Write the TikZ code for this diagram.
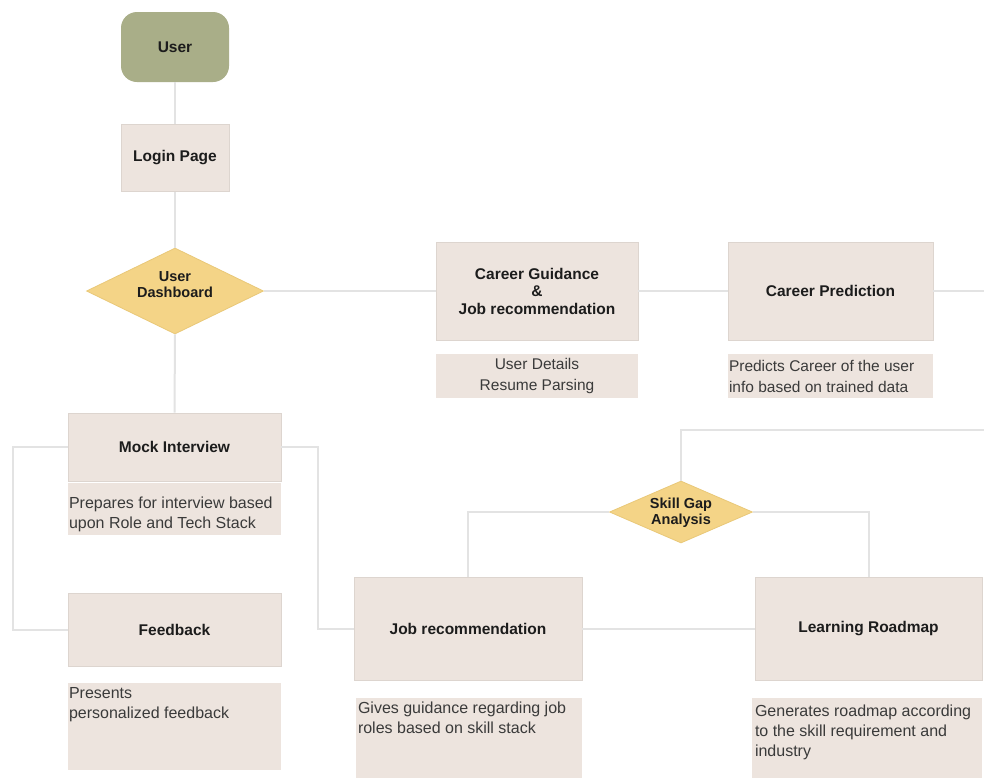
\documentclass[tikz,border=0pt]{standalone}
\usepackage{fontspec}
\setmainfont{Liberation Sans}
\usetikzlibrary{shapes.geometric}
\definecolor{userg}{HTML}{A9AE88}
\definecolor{boxf}{HTML}{EDE4DE}
\definecolor{boxd}{HTML}{DDD5CF}
\definecolor{diaf}{HTML}{F4D487}
\definecolor{diad}{HTML}{E9C878}
\definecolor{linec}{HTML}{E3E3E3}
\definecolor{titlec}{HTML}{1C1C1C}
\definecolor{bodyc}{HTML}{3A3A3A}
\tikzset{
  x=1pt, y=-1pt,
  titlebox/.style={rectangle, fill=boxf, draw=boxd, line width=0.8pt, inner sep=2pt,
    font=\fontsize{15.5}{17.5}\selectfont\bfseries, text=titlec, align=center},
  subbox/.style={rectangle, fill=boxf, draw=none, inner sep=0pt},
  subtext/.style={font=\fontsize{16}{20}\selectfont, text=bodyc, align=left, inner sep=0pt},
  dia/.style={diamond, fill=diaf, draw=diad, line width=0.8pt, inner sep=0pt},
  diatext/.style={font=\fontsize{14.5}{16}\selectfont\bfseries, text=titlec, align=center, inner sep=0pt},
  conn/.style={draw=linec, line width=2pt},
}
\begin{document}
\begin{tikzpicture}
\path[use as bounding box, fill=white] (0,0) rectangle (984,780);

\coordinate (e1) at (984,291);
\coordinate (e2) at (984,430);

% nodes
\node[rectangle, rounded corners=16pt, fill=userg, draw=none, minimum width=108pt, minimum height=70pt,
  font=\fontsize{15.5}{17.5}\selectfont\bfseries, text=titlec] (user) at (175,47) {User};
\node[titlebox, minimum width=108pt, minimum height=67pt] (login) at (175,158) {Login Page};
\node[dia, minimum width=177pt, minimum height=86pt] (dash) at (175,291) {};
\node[diatext] (dasht) at ([yshift=6pt]dash.center) {User\\Dashboard};

\node[titlebox, minimum width=202pt, minimum height=98pt] (cg) at (537,291) {Career Guidance\\\&\\Job recommendation};
\node[subbox, minimum width=202pt, minimum height=44pt] (cgs) at (537,376) {};
\node[subtext, align=center, font=\fontsize{15.5}{21}\selectfont] (cgst) at (cgs.center) {User Details\\Resume Parsing};

\node[titlebox, minimum width=205pt, minimum height=98pt] (cp) at (830.5,291) {Career Prediction};
\node[subbox, minimum width=205pt, minimum height=44pt] (cps) at (830.5,376) {};
\node[subtext, font=\fontsize{15.5}{21}\selectfont, anchor=west] (cpst) at ([xshift=1pt]cps.west) {Predicts Career of the user\\info based on trained data};

\node[titlebox, minimum width=213pt, minimum height=68pt] (mock) at (174.5,447) {Mock Interview};
\node[subbox, minimum width=213pt, minimum height=52pt] (mocks) at (174.5,509) {};
\node[subtext, anchor=west] (mockst) at ([xshift=1pt,yshift=-5pt]mocks.west) {Prepares for interview based\\upon Role and Tech Stack};

\node[titlebox, minimum width=213pt, minimum height=73pt] (fb) at (174.5,629.5) {Feedback};
\node[subbox, minimum width=213pt, minimum height=87pt] (fbs) at (174.5,726.5) {};
\node[subtext, anchor=north west] (fbst) at ([xshift=1pt,yshift=-4pt]fbs.north west) {Presents\\personalized feedback};

\node[dia, minimum width=143pt, minimum height=62pt] (sga) at (681,512) {};
\node[diatext] (sgat) at ([yshift=-1pt]sga.center) {Skill Gap\\Analysis};

\node[titlebox, minimum width=228pt, minimum height=103pt] (jr) at (468,628.5) {Job recommendation};
\node[subbox, minimum width=226pt, minimum height=80pt] (jrs) at (469,738) {};
\node[subtext, anchor=north west] (jrst) at ([xshift=2pt,yshift=-4pt]jrs.north west) {Gives guidance regarding job\\roles based on skill stack};

\node[titlebox, minimum width=227pt, minimum height=103pt] (lr) at (868.5,628.5) {Learning Roadmap};
\node[subbox, minimum width=230pt, minimum height=80pt] (lrs) at (867,738) {};
\node[subtext, anchor=north west] (lrst) at ([xshift=3pt,yshift=-7pt]lrs.north west) {Generates roadmap according\\to the skill requirement and\\industry};

% connectors
\draw[conn] (user.south) -- (login.north);
\draw[conn] (login.south) -- (dash.north);
\draw[conn] (dash.east) -- (cg.west);
\draw[conn] (cg.east) -- (cp.west);
\draw[conn] (cp.east) -- (e1);
\draw[conn] (e2) -| (sga.north);
\draw[conn] (sga.west) -| (jr.north);
\draw[conn] (sga.east) -| (lr.north);
\draw[conn] (jr.east) -- (lr.west);
\draw[conn] (dash.south) -- (mock.north);
\draw[conn] (mock.west) -- ++(-55,0) |- (fb.west);
\draw[conn] (mock.east) -- ++(37,0) |- (jr.west);
\end{tikzpicture}
\end{document}
